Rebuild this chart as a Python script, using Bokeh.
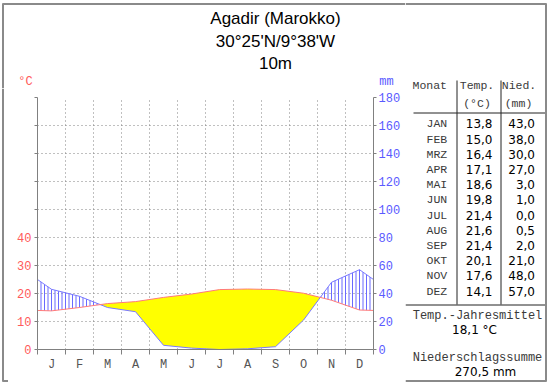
import numpy as np
from bokeh.plotting import figure
from bokeh.models import Range1d, LinearAxis, FixedTicker
from bokeh.layouts import row, column
from bokeh.embed import file_html
from bokeh.resources import INLINE
from bokeh.core.properties import value

# ---------------- data ----------------
month_letters = ["J", "F", "M", "A", "M", "J", "J", "A", "S", "O", "N", "D"]
month_names = ["JAN", "FEB", "MRZ", "APR", "MAI", "JUN", "JUL", "AUG", "SEP", "OKT", "NOV", "DEZ"]
temp_c = [13.8, 15.0, 16.4, 17.1, 18.6, 19.8, 21.4, 21.6, 21.4, 20.1, 17.6, 14.1]
prec_mm = [43.0, 38.0, 30.0, 27.0, 3.0, 1.0, 0.0, 0.5, 2.0, 21.0, 48.0, 57.0]
mm_ticks = [0, 20, 40, 60, 80, 100, 120, 140, 160, 180]
title_lines = ["Agadir (Marokko)", "30\u00b025'N/9\u00b038'W", "10m"]
table_header = ["Monat", "Temp.", "(\u00b0C)", "Nied.", "(mm)"]
annual_temp_label = "Temp.-Jahresmittel"
annual_temp_text = "18,1 \u00b0C"
annual_prec_label = "Niederschlagssumme"
annual_prec_text = "270,5 mm"

RED = "#ff5a5a"
BLUE = "#5a5aff"
GRAY = "#808080"
BORDER = "#8a8a8a"
INK = "#3a3a3a"
MONO = "Liberation Mono"
SANS = "Liberation Sans"
NUM = "DejaVu Sans"


def blank(w, h, xr, yr):
    f = figure(width=w, height=h, x_range=Range1d(*xr), y_range=Range1d(*yr),
               output_backend="svg", toolbar_location=None, min_border=0,
               x_axis_location=None, y_axis_location=None)
    f.xgrid.visible = False
    f.ygrid.visible = False
    f.outline_line_color = None
    f.background_fill_color = "white"
    f.border_fill_color = "white"
    return f


def txt(f, x, y, text, align="left", font=SANS, size="12px", color="black"):
    f.text(x=[x], y=[y], text=[text], text_align=align, text_baseline="middle",
           text_font=value(font), text_font_size=size, text_color=color)


def seg(f, x0, y0, x1, y1, color=BORDER, width=2):
    f.segment(x0=[x0], y0=[y0], x1=[x1], y1=[y1], line_color=color, line_width=width)


# ---------------- header (x 0..405, y 0..88) ----------------
head = blank(405, 88, (0, 405), (88, 0))
for i, t in enumerate(title_lines):
    txt(head, 275, 18 + 22.5 * i, t, align="center", size="17px")
txt(head, 25, 81, "\u00b0C", align="center", font=MONO, color=RED)
txt(head, 386, 81, "mm", align="center", font=MONO, color=BLUE)
seg(head, 2, 3.5, 405, 3.5)
seg(head, 2.5, 3, 2.5, 88)

# ---------------- left strip (x 0..8, y 88..384) ----------------
lstrip = blank(8, 296, (0, 8), (384, 88))
seg(lstrip, 2.5, 88, 2.5, 381)
seg(lstrip, 2, 380.5, 8, 380.5)

# ---------------- bottom strip (x 8..405, y 376..384) ----------------
bstrip = blank(397, 8, (8, 405), (384, 376))
seg(bstrip, 8, 380.5, 405, 380.5)

# ---------------- climate chart (x 8..405, y 88..376) ----------------
n = len(temp_c)
centers = list(range(n))
p = figure(width=397, height=288, x_range=Range1d(-0.5, n - 0.5), y_range=Range1d(0, 180),
           output_backend="svg", toolbar_location=None,
           min_border_left=29, min_border_right=32, min_border_top=9, min_border_bottom=27)
p.outline_line_color = None
p.background_fill_color = "white"
p.border_fill_color = "white"

x_ext = [-0.5] + centers + [n - 0.5]
t2 = [2 * t for t in temp_c]
t_edge = (t2[0] + t2[-1]) / 2
p_edge = (prec_mm[0] + prec_mm[-1]) / 2
t_ext = [t_edge] + t2 + [t_edge]
p_ext = [p_edge] + prec_mm + [p_edge]

xs = np.linspace(-0.5, n - 0.5, 4801)
ti = np.interp(xs, x_ext, t_ext)
pi = np.interp(xs, x_ext, p_ext)
p.varea(x=xs, y1=pi, y2=np.maximum(ti, pi), fill_color="#ffff00", fill_alpha=1.0)

hx = np.arange(-0.5, n - 0.5 + 1e-9, 0.125)
ht = np.interp(hx, x_ext, t_ext)
hp = np.interp(hx, x_ext, p_ext)
m = hp > ht
p.segment(x0=hx[m], y0=ht[m], x1=hx[m], y1=hp[m], line_color="#6a6aff", line_width=1)

p.line(x_ext, p_ext, line_color="#7a7aff", line_width=1)
p.line(x_ext, t_ext, line_color="#ff7a7a", line_width=1)

xa = p.xaxis[0]
xa.ticker = FixedTicker(ticks=centers, minor_ticks=[c - 0.5 for c in centers] + [n - 0.5])
xa.major_label_overrides = {c: month_letters[c] for c in centers}
xa.major_tick_out = 0
xa.major_tick_in = 0
xa.minor_tick_out = 5
xa.minor_tick_in = 0
xa.minor_tick_line_color = GRAY
xa.axis_line_color = GRAY
xa.major_label_standoff = 3
xa.major_label_text_font = MONO
xa.major_label_text_font_size = "12px"
xa.major_label_text_color = "#555555"

ya = p.yaxis[0]
ya.ticker = FixedTicker(ticks=mm_ticks)
ya.major_label_overrides = {v: (str(v // 2) if v <= 80 else "") for v in mm_ticks}
ya.major_tick_out = 3
ya.major_tick_in = 0
ya.major_tick_line_color = GRAY
ya.axis_line_color = GRAY
ya.major_label_standoff = 3
ya.major_label_text_font = MONO
ya.major_label_text_font_size = "12px"
ya.major_label_text_color = RED

ra = LinearAxis(ticker=FixedTicker(ticks=mm_ticks))
ra.major_tick_out = 3
ra.major_tick_in = 0
ra.major_tick_line_color = GRAY
ra.axis_line_color = GRAY
ra.major_label_standoff = 2
ra.major_label_text_font = MONO
ra.major_label_text_font_size = "12px"
ra.major_label_text_color = BLUE
p.add_layout(ra, "right")

p.xgrid.ticker = FixedTicker(ticks=[c + 0.5 for c in centers[:-1]])
p.ygrid.ticker = FixedTicker(ticks=mm_ticks[1:])
for g in (p.xgrid[0], p.ygrid[0]):
    g.grid_line_color = GRAY
    g.grid_line_dash = "1 3"
    g.grid_line_width = 1

# ---------------- table (x 405..550, y 0..384) ----------------
tab = blank(145, 384, (405, 550), (384, 0))
txt(tab, 412, 85, table_header[0], font=MONO, size="11.5px", color=INK)
txt(tab, 476.5, 85, table_header[1], align="center", font=MONO, size="11.5px", color=INK)
txt(tab, 476.5, 103, table_header[2], align="center", font=MONO, size="11.5px", color=INK)
txt(tab, 518.5, 85, table_header[3], align="center", font=MONO, size="11.5px", color=INK)
txt(tab, 518, 103, table_header[4], align="center", font=MONO, size="11.5px", color=INK)


def fmt(v):
    return f"{v:.1f}".replace(".", ",")


row_y = [123.3 + 15.2 * i for i in range(n)]
tab.text(x=[446.7] * n, y=row_y, text=month_names, text_align="right", text_baseline="middle",
         text_font=value(MONO), text_font_size="11.5px", text_color=INK)
tab.text(x=[492] * n, y=row_y, text=[fmt(v) for v in temp_c], text_align="right",
         text_baseline="middle", text_font=value(NUM), text_font_size="12px", text_color="black")
tab.text(x=[534.5] * n, y=row_y, text=[fmt(v) for v in prec_mm], text_align="right",
         text_baseline="middle", text_font=value(NUM), text_font_size="12px", text_color="black")

seg(tab, 456.5, 80, 456.5, 304, color="#222222", width=1)
seg(tab, 500.5, 80, 500.5, 304, color="#222222", width=1)
seg(tab, 413, 112.5, 545, 112.5, color="#222222", width=1)
seg(tab, 405, 304.5, 545, 304.5, color="#222222", width=1)

txt(tab, 477, 315, annual_temp_label, align="center", font=MONO, size="12px", color=INK)
txt(tab, 474, 329, annual_temp_text, align="center", font=NUM, size="12px")
txt(tab, 477, 357, annual_prec_label, align="center", font=MONO, size="12px", color=INK)
txt(tab, 485, 371, annual_prec_text, align="center", font=NUM, size="12px")

seg(tab, 405, 3.5, 546, 3.5)
seg(tab, 545.5, 3, 545.5, 381)
seg(tab, 405, 380.5, 546, 380.5)

layout = row(column(head, row(lstrip, column(p, bstrip))), tab)

open("out.html", "w").write(file_html(layout, INLINE))
